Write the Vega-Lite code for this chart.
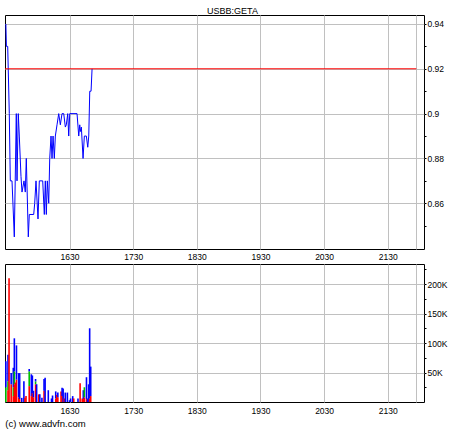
{
  "$schema": "https://vega.github.io/schema/vega-lite/v6.json",
  "background": "white",
  "padding": {"left": 3, "top": 6, "right": 0, "bottom": 0},
  "spacing": 15,
  "bounds": "flush",
  "config": {
    "font": "Liberation Sans",
    "view": {"stroke": "black", "strokeWidth": 1},
    "axis": {"labelFont": "Liberation Sans", "labelFontSize": 8.5, "labelColor": "black", "gridColor": "#c0c0c0", "gridWidth": 1, "domain": false, "title": null},
    "title": {"font": "Liberation Sans", "fontWeight": "normal", "color": "black"}
  },
  "title": {"text": "(c) www.advfn.com", "orient": "bottom", "anchor": "start", "fontSize": 9.5, "offset": 4, "dx": 2},
  "datasets": {
    "price": [
      {"t": "2024-01-15T15:30:00", "p": 0.94},
      {"t": "2024-01-15T15:30:30", "p": 0.93},
      {"t": "2024-01-15T15:31:44", "p": 0.93},
      {"t": "2024-01-15T15:33:14", "p": 0.90},
      {"t": "2024-01-15T15:34:11", "p": 0.87},
      {"t": "2024-01-15T15:35:47", "p": 0.87},
      {"t": "2024-01-15T15:37:57", "p": 0.845},
      {"t": "2024-01-15T15:39:50", "p": 0.90},
      {"t": "2024-01-15T15:40:30", "p": 0.87},
      {"t": "2024-01-15T15:41:43", "p": 0.90},
      {"t": "2024-01-15T15:42:40", "p": 0.89},
      {"t": "2024-01-15T15:44:16", "p": 0.872},
      {"t": "2024-01-15T15:45:13", "p": 0.865},
      {"t": "2024-01-15T15:47:06", "p": 0.87},
      {"t": "2024-01-15T15:48:19", "p": 0.865},
      {"t": "2024-01-15T15:49:16", "p": 0.88},
      {"t": "2024-01-15T15:51:09", "p": 0.845},
      {"t": "2024-01-15T15:52:06", "p": 0.855},
      {"t": "2024-01-15T15:56:15", "p": 0.855},
      {"t": "2024-01-15T15:57:11", "p": 0.86},
      {"t": "2024-01-15T15:58:25", "p": 0.87},
      {"t": "2024-01-15T16:00:18", "p": 0.853},
      {"t": "2024-01-15T16:01:32", "p": 0.87},
      {"t": "2024-01-15T16:04:44", "p": 0.87},
      {"t": "2024-01-15T16:06:15", "p": 0.855},
      {"t": "2024-01-15T16:07:11", "p": 0.87},
      {"t": "2024-01-15T16:08:08", "p": 0.855},
      {"t": "2024-01-15T16:09:05", "p": 0.87},
      {"t": "2024-01-15T16:10:24", "p": 0.86},
      {"t": "2024-01-15T16:11:21", "p": 0.88},
      {"t": "2024-01-15T16:12:34", "p": 0.89},
      {"t": "2024-01-15T16:13:31", "p": 0.88},
      {"t": "2024-01-15T16:14:28", "p": 0.89},
      {"t": "2024-01-15T16:15:41", "p": 0.88},
      {"t": "2024-01-15T16:16:38", "p": 0.89},
      {"t": "2024-01-15T16:18:14", "p": 0.895},
      {"t": "2024-01-15T16:19:50", "p": 0.90},
      {"t": "2024-01-15T16:21:21", "p": 0.895},
      {"t": "2024-01-15T16:22:57", "p": 0.90},
      {"t": "2024-01-15T16:24:33", "p": 0.90},
      {"t": "2024-01-15T16:26:04", "p": 0.894},
      {"t": "2024-01-15T16:27:00", "p": 0.895},
      {"t": "2024-01-15T16:28:20", "p": 0.90},
      {"t": "2024-01-15T16:29:16", "p": 0.89},
      {"t": "2024-01-15T16:30:13", "p": 0.90},
      {"t": "2024-01-15T16:37:06", "p": 0.90},
      {"t": "2024-01-15T16:38:42", "p": 0.89},
      {"t": "2024-01-15T16:39:39", "p": 0.895},
      {"t": "2024-01-15T16:40:13", "p": 0.892},
      {"t": "2024-01-15T16:41:10", "p": 0.894},
      {"t": "2024-01-15T16:42:46", "p": 0.88},
      {"t": "2024-01-15T16:44:00", "p": 0.89},
      {"t": "2024-01-15T16:45:53", "p": 0.89},
      {"t": "2024-01-15T16:47:12", "p": 0.885},
      {"t": "2024-01-15T16:48:09", "p": 0.89},
      {"t": "2024-01-15T16:49:05", "p": 0.91},
      {"t": "2024-01-15T16:50:19", "p": 0.91},
      {"t": "2024-01-15T16:51:16", "p": 0.92}
    ],
    "prevclose": [
      {"start": "2024-01-15T15:29:11", "end": "2024-01-15T21:57:00", "p": 0.92}
    ],
    "volume": [
      {"t": "2024-01-15T15:30:00", "type": "Neutral", "v": 25000},
      {"t": "2024-01-15T15:30:00", "type": "Up", "v": 44000},
      {"t": "2024-01-15T15:32:00", "type": "Down", "v": 20000},
      {"t": "2024-01-15T15:32:00", "type": "Neutral", "v": 15000},
      {"t": "2024-01-15T15:32:00", "type": "Up", "v": 45000},
      {"t": "2024-01-15T15:33:00", "type": "Down", "v": 210000},
      {"t": "2024-01-15T15:35:00", "type": "Down", "v": 30000},
      {"t": "2024-01-15T15:35:00", "type": "Up", "v": 19000},
      {"t": "2024-01-15T15:37:00", "type": "Down", "v": 10000},
      {"t": "2024-01-15T15:37:00", "type": "Neutral", "v": 15000},
      {"t": "2024-01-15T15:37:00", "type": "Up", "v": 33000},
      {"t": "2024-01-15T15:38:00", "type": "Down", "v": 30000},
      {"t": "2024-01-15T15:38:00", "type": "Neutral", "v": 22000},
      {"t": "2024-01-15T15:38:00", "type": "Up", "v": 56000},
      {"t": "2024-01-15T15:39:00", "type": "Down", "v": 33000},
      {"t": "2024-01-15T15:40:00", "type": "Down", "v": 38000},
      {"t": "2024-01-15T15:40:00", "type": "Up", "v": 58000},
      {"t": "2024-01-15T15:42:00", "type": "Down", "v": 8000},
      {"t": "2024-01-15T15:42:00", "type": "Up", "v": 41000},
      {"t": "2024-01-15T15:43:00", "type": "Down", "v": 5000},
      {"t": "2024-01-15T15:43:00", "type": "Up", "v": 44000},
      {"t": "2024-01-15T15:45:00", "type": "Up", "v": 7000},
      {"t": "2024-01-15T15:47:00", "type": "Up", "v": 35000},
      {"t": "2024-01-15T15:48:00", "type": "Down", "v": 7000},
      {"t": "2024-01-15T15:49:00", "type": "Down", "v": 10000},
      {"t": "2024-01-15T15:52:00", "type": "Down", "v": 27000},
      {"t": "2024-01-15T15:52:00", "type": "Neutral", "v": 25000},
      {"t": "2024-01-15T15:52:00", "type": "Up", "v": 4000},
      {"t": "2024-01-15T15:54:00", "type": "Down", "v": 10000},
      {"t": "2024-01-15T15:54:00", "type": "Up", "v": 37000},
      {"t": "2024-01-15T15:55:00", "type": "Down", "v": 15000},
      {"t": "2024-01-15T15:55:00", "type": "Up", "v": 30000},
      {"t": "2024-01-15T15:56:00", "type": "Down", "v": 8000},
      {"t": "2024-01-15T15:56:00", "type": "Up", "v": 11000},
      {"t": "2024-01-15T15:58:00", "type": "Down", "v": 30000},
      {"t": "2024-01-15T15:58:00", "type": "Neutral", "v": 5000},
      {"t": "2024-01-15T15:58:00", "type": "Up", "v": 4000},
      {"t": "2024-01-15T15:59:00", "type": "Up", "v": 30000},
      {"t": "2024-01-15T16:01:00", "type": "Down", "v": 13000},
      {"t": "2024-01-15T16:02:00", "type": "Up", "v": 13000},
      {"t": "2024-01-15T16:04:00", "type": "Up", "v": 7000},
      {"t": "2024-01-15T16:06:00", "type": "Down", "v": 19000},
      {"t": "2024-01-15T16:06:00", "type": "Up", "v": 20000},
      {"t": "2024-01-15T16:07:00", "type": "Up", "v": 41000},
      {"t": "2024-01-15T16:10:00", "type": "Up", "v": 20000},
      {"t": "2024-01-15T16:13:00", "type": "Up", "v": 6000},
      {"t": "2024-01-15T16:14:00", "type": "Up", "v": 11000},
      {"t": "2024-01-15T16:17:00", "type": "Down", "v": 6000},
      {"t": "2024-01-15T16:17:00", "type": "Up", "v": 12000},
      {"t": "2024-01-15T16:18:00", "type": "Down", "v": 12000},
      {"t": "2024-01-15T16:19:00", "type": "Down", "v": 8000},
      {"t": "2024-01-15T16:19:00", "type": "Up", "v": 8000},
      {"t": "2024-01-15T16:22:00", "type": "Down", "v": 18000},
      {"t": "2024-01-15T16:23:00", "type": "Down", "v": 10000},
      {"t": "2024-01-15T16:23:00", "type": "Up", "v": 14000},
      {"t": "2024-01-15T16:24:00", "type": "Up", "v": 23000},
      {"t": "2024-01-15T16:25:00", "type": "Down", "v": 6000},
      {"t": "2024-01-15T16:26:00", "type": "Up", "v": 16000},
      {"t": "2024-01-15T16:28:00", "type": "Up", "v": 16000},
      {"t": "2024-01-15T16:30:00", "type": "Up", "v": 3000},
      {"t": "2024-01-15T16:31:00", "type": "Up", "v": 6000},
      {"t": "2024-01-15T16:33:00", "type": "Up", "v": 10000},
      {"t": "2024-01-15T16:34:00", "type": "Down", "v": 6000},
      {"t": "2024-01-15T16:38:00", "type": "Up", "v": 6000},
      {"t": "2024-01-15T16:40:00", "type": "Down", "v": 32000},
      {"t": "2024-01-15T16:42:00", "type": "Down", "v": 6000},
      {"t": "2024-01-15T16:43:00", "type": "Down", "v": 5000},
      {"t": "2024-01-15T16:43:00", "type": "Up", "v": 15000},
      {"t": "2024-01-15T16:44:00", "type": "Down", "v": 8000},
      {"t": "2024-01-15T16:44:00", "type": "Neutral", "v": 17000},
      {"t": "2024-01-15T16:46:00", "type": "Down", "v": 5000},
      {"t": "2024-01-15T16:46:00", "type": "Up", "v": 37000},
      {"t": "2024-01-15T16:47:00", "type": "Up", "v": 6000},
      {"t": "2024-01-15T16:48:00", "type": "Up", "v": 30000},
      {"t": "2024-01-15T16:49:00", "type": "Down", "v": 6000},
      {"t": "2024-01-15T16:49:00", "type": "Up", "v": 119000},
      {"t": "2024-01-15T16:50:00", "type": "Down", "v": 10000},
      {"t": "2024-01-15T16:50:00", "type": "Up", "v": 50000}
    ]
  },
  "vconcat": [
    {
      "width": 419,
      "height": 234,
      "title": {"text": "USBB:GETA", "fontSize": 9, "anchor": "middle", "baseline": "alphabetic", "offset": 1, "dx": 18, "dy": 9},
      "encoding": {
        "y": {
          "field": "p", "type": "quantitative",
          "scale": {"domain": [0.8396, 0.944], "nice": false, "zero": false},
          "axis": {
            "orient": "right",
            "values": [0.85, 0.86, 0.87, 0.88, 0.89, 0.9, 0.91, 0.92, 0.93, 0.94],
            "labelExpr": "datum.value > 0.855 && datum.value < 0.865 ? '0.86' : datum.value > 0.875 && datum.value < 0.885 ? '0.88' : datum.value > 0.895 && datum.value < 0.905 ? '0.9' : datum.value > 0.915 && datum.value < 0.925 ? '0.92' : datum.value > 0.935 ? '0.94' : ''",
            "labelOverlap": false,
            "tickSize": 2,
            "tickColor": "black",
            "labelPadding": 1,
            "labelBaseline": "middle",
            "grid": true,
            "gridOpacity": {"condition": {"test": "datum.value > 0.855 && datum.value < 0.865 || datum.value > 0.875 && datum.value < 0.885 || datum.value > 0.895 && datum.value < 0.905 || datum.value > 0.915 && datum.value < 0.925 || datum.value > 0.935", "value": 1}, "value": 0}
          }
        }
      },
      "layer": [
        {
          "data": {"name": "price"},
          "mark": {"type": "line", "color": "#0000ff", "strokeWidth": 1},
          "encoding": {
            "x": {
              "field": "t", "type": "temporal",
              "scale": {"domain": [
                {"year": 2024, "month": 1, "date": 15, "hours": 15, "minutes": 29, "seconds": 11},
                {"year": 2024, "month": 1, "date": 15, "hours": 22, "minutes": 4, "seconds": 12}
              ], "padding": 0},
              "axis": {
                "orient": "bottom",
                "values": [
                  {"year": 2024, "month": 1, "date": 15, "hours": 16, "minutes": 30},
                  {"year": 2024, "month": 1, "date": 15, "hours": 17, "minutes": 30},
                  {"year": 2024, "month": 1, "date": 15, "hours": 18, "minutes": 30},
                  {"year": 2024, "month": 1, "date": 15, "hours": 19, "minutes": 30},
                  {"year": 2024, "month": 1, "date": 15, "hours": 20, "minutes": 30},
                  {"year": 2024, "month": 1, "date": 15, "hours": 21, "minutes": 30},
                  {"year": 2024, "month": 1, "date": 15, "hours": 21, "minutes": 57}
                ],
                "format": "%H%M",
                "labelExpr": "minutes(datum.value) == 57 ? '' : datum.label",
                "ticks": false,
                "labelPadding": 3,
                "grid": true
              }
            }
          }
        },
        {
          "data": {"name": "prevclose"},
          "mark": {"type": "rule", "color": "#ff0000", "strokeWidth": 1},
          "encoding": {
            "x": {"field": "start", "type": "temporal"},
            "x2": {"field": "end"}
          }
        }
      ]
    },
    {
      "width": 419,
      "height": 138,
      "data": {"name": "volume"},
      "mark": {"type": "bar", "size": 1.6},
      "encoding": {
        "x": {
          "field": "t", "type": "temporal",
          "scale": {"domain": [
            {"year": 2024, "month": 1, "date": 15, "hours": 15, "minutes": 29, "seconds": 11},
            {"year": 2024, "month": 1, "date": 15, "hours": 22, "minutes": 4, "seconds": 12}
          ], "padding": 0},
          "axis": {
            "orient": "bottom",
            "values": [
              {"year": 2024, "month": 1, "date": 15, "hours": 16, "minutes": 30},
              {"year": 2024, "month": 1, "date": 15, "hours": 17, "minutes": 30},
              {"year": 2024, "month": 1, "date": 15, "hours": 18, "minutes": 30},
              {"year": 2024, "month": 1, "date": 15, "hours": 19, "minutes": 30},
              {"year": 2024, "month": 1, "date": 15, "hours": 20, "minutes": 30},
              {"year": 2024, "month": 1, "date": 15, "hours": 21, "minutes": 30},
              {"year": 2024, "month": 1, "date": 15, "hours": 21, "minutes": 57}
            ],
            "format": "%H%M",
            "labelExpr": "minutes(datum.value) == 57 ? '' : datum.label",
            "ticks": false,
            "labelPadding": 4,
            "grid": true
          }
        },
        "y": {
          "field": "v", "type": "quantitative", "stack": "zero",
          "scale": {"domain": [0, 234000], "nice": false},
          "axis": {
            "orient": "right",
            "values": [25000, 50000, 75000, 100000, 125000, 150000, 175000, 200000, 225000],
            "labelExpr": "datum.value % 50000 == 0 ? (datum.value / 1000) + 'K' : ''",
            "labelOverlap": false,
            "tickSize": 2,
            "tickColor": "black",
            "labelPadding": 1,
            "labelBaseline": "middle",
            "grid": true,
            "gridOpacity": {"condition": {"test": "datum.value % 50000 == 0", "value": 1}, "value": 0}
          }
        },
        "color": {
          "field": "type", "type": "nominal",
          "scale": {"domain": ["Down", "Neutral", "Up"], "range": ["#ff0000", "#00c000", "#0000ff"]},
          "legend": null
        },
        "order": {"field": "type", "sort": "ascending"}
      }
    }
  ]
}
